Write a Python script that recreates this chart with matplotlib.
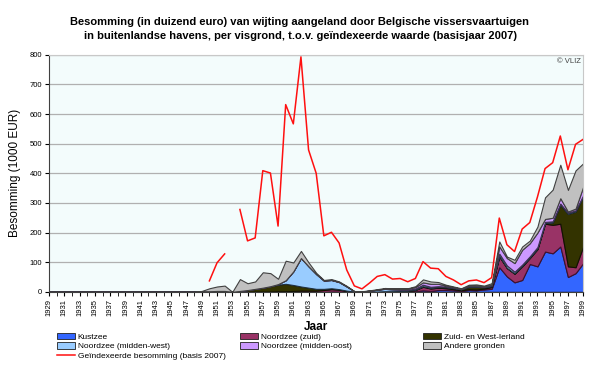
import numpy as np
import matplotlib
matplotlib.use("Agg")
import matplotlib.pyplot as plt
from matplotlib.patches import Patch
from matplotlib.lines import Line2D

plt.rcParams['font.family'] = ['Liberation Sans', 'DejaVu Sans']

years = np.arange(1929, 2000)

# values per fishing ground, 1949-1999 (earlier years are zero)
yrs_data = list(range(1949, 2000))
kustzee = [0, 0, 0, 0, 0, 0, 0, 0, 0, 0, 0, 0, 0, 0, 0, 0, 0, 1, 1, 0, 0,
           0, 0, 0, 0, 0, 0, 1, 2, 5, 3, 6, 6, 5, 3, 6, 5, 8, 10,
           83, 52, 32, 40, 94, 86, 136, 130, 153, 50, 63, 97]
nz_zuid = [0, 0, 0, 0, 0, 0, 0, 1, 1, 1, 2, 2, 3, 4, 4, 4, 6, 8, 6, 3, 1,
           0, 1, 1, 1, 1, 2, 2, 4, 12, 8, 8, 6, 4, 2, 3, 3, 3, 6,
           36, 28, 29, 46, 20, 58, 94, 96, 77, 36, 20, 56]
zw_ierland = [2, 2, 3, 3, 0, 3, 6, 9, 13, 18, 22, 25, 20, 14, 10, 6, 4, 3, 2, 1, 0,
              0, 0, 0, 1, 1, 1, 1, 1, 2, 2, 2, 3, 3, 3, 8, 9, 4, 3,
              2, 1, 1, 1, 2, 2, 2, 8, 64, 177, 188, 169]
nz_midwest = [0, 0, 0, 0, 0, 0, 0, 0, 0, 0, 2, 12, 46, 96, 72, 50, 28, 28, 24, 14, 1,
              1, 3, 6, 8, 6, 4, 3, 4, 5, 4, 3, 3, 2, 1, 2, 2, 2, 3,
              8, 8, 6, 5, 4, 5, 4, 4, 4, 4, 4, 4]
nz_midoost = [0, 0, 0, 0, 0, 0, 0, 0, 0, 0, 0, 0, 0, 0, 0, 0, 0, 0, 0, 0, 0,
              0, 0, 0, 1, 2, 4, 4, 5, 8, 10, 8, 3, 2, 1, 2, 2, 1, 2,
              24, 25, 29, 50, 44, 49, 10, 12, 18, 4, 6, 29]
andere = [1, 10, 15, 18, 0, 40, 23, 25, 52, 44, 18, 66, 30, 24, 13, 4, 2, 3, 2, 2, 0,
          1, 1, 2, 2, 2, 1, 1, 3, 10, 8, 6, 3, 2, 2, 3, 4, 3, 5,
          17, 5, 11, 11, 9, 20, 73, 95, 113, 73, 129, 79]
# indexed total (basis 2007); gap in 1953
red_years = list(range(1950, 2000))
red_vals = [37, 98, 128, np.nan, 278, 172, 182, 409, 401, 222, 632, 567, 793, 479, 400,
            189, 201, 165, 74, 20, 10, 30, 52, 58, 43, 45, 34, 45, 102, 80, 78,
            52, 40, 24, 37, 40, 31, 48, 249, 159, 136, 212, 234, 320, 416, 436,
            526, 412, 498, 515]

def full(vals):
    out = np.zeros(len(years))
    out[yrs_data[0] - 1929:] = vals
    return out

series = [full(kustzee), full(nz_zuid), full(zw_ierland),
          full(nz_midwest), full(nz_midoost), full(andere)]
labels = ["Kustzee", "Noordzee (zuid)", "Zuid- en West-Ierland",
          "Noordzee (midden-west)", "Noordzee (midden-oost)", "Andere gronden"]
colors = ["#3366FF", "#993366", "#333300", "#99CCFF", "#CC99FF", "#C0C0C0"]
edges = ["#1a1a40", "#401030", "#111100", "#203040", "#403050", "#404040"]

fig = plt.figure(figsize=(6, 3.68), dpi=100)
ax = fig.add_axes([0.082, 0.207, 0.89, 0.644])
ax.set_facecolor("#F3FCFC")

ax.yaxis.grid(True, color="#B0B0B0", linewidth=0.9)
ax.set_axisbelow(True)

polys = ax.stackplot(years, *series, colors=colors, linewidth=0.8, zorder=2)
for p, ec in zip(polys, edges):
    p.set_edgecolor(ec)

ax.plot(red_years, red_vals, color="#FF1010", linewidth=1.1, zorder=3)

ax.set_xlim(1929, 1999)
ax.set_ylim(0, 800)
ax.set_yticks(range(0, 801, 100))
ax.set_xticks(range(1929, 2000, 2))
ax.set_xticks(range(1929, 2000), minor=True)
ax.tick_params(axis="x", which="major", labelrotation=90, labelsize=5.5, length=3, pad=2)
ax.tick_params(axis="x", which="minor", length=3)
ax.tick_params(axis="y", labelsize=5.5, length=3, pad=2)
for s in ["top", "right"]:
    ax.spines[s].set_color("#C8C8C8")
for s in ["left", "bottom"]:
    ax.spines[s].set_color("#404040")

ax.text(0.995, 0.985, "© VLIZ", transform=ax.transAxes, ha="right", va="top",
        fontsize=5.5, color="#404040")

ax.set_ylabel("Besomming (1000 EUR)", fontsize=8.5, labelpad=6)
ax.set_xlabel("Jaar", fontsize=8.5, fontweight="bold", labelpad=4)

fig.text(0.5, 0.955, "Besomming (in duizend euro) van wijting aangeland door Belgische vissersvaartuigen\n"
         "in buitenlandse havens, per visgrond, t.o.v. geïndexeerde waarde (basisjaar 2007)",
         ha="center", va="top", fontsize=8, fontweight="bold", linespacing=1.5)

def patch(i):
    return Patch(facecolor=colors[i], edgecolor="#202020", linewidth=0.6)

red_handle = Line2D([0], [0], color="#FF1010", linewidth=1.1)
cols = [
    ([patch(0), patch(3), red_handle], [labels[0], labels[3], "Geïndexeerde besomming (basis 2007)"], 0.095),
    ([patch(1), patch(4)], [labels[1], labels[4]], 0.40),
    ([patch(2), patch(5)], [labels[2], labels[5]], 0.705),
]
for h, l, x in cols:
    leg = fig.legend(h, l, loc="upper left", bbox_to_anchor=(x, 0.095), frameon=False,
                     fontsize=6, handlelength=2.2, handleheight=0.8, handletextpad=0.3,
                     labelspacing=0.15, borderaxespad=0, borderpad=0)

fig.savefig("out.png", dpi=100)
